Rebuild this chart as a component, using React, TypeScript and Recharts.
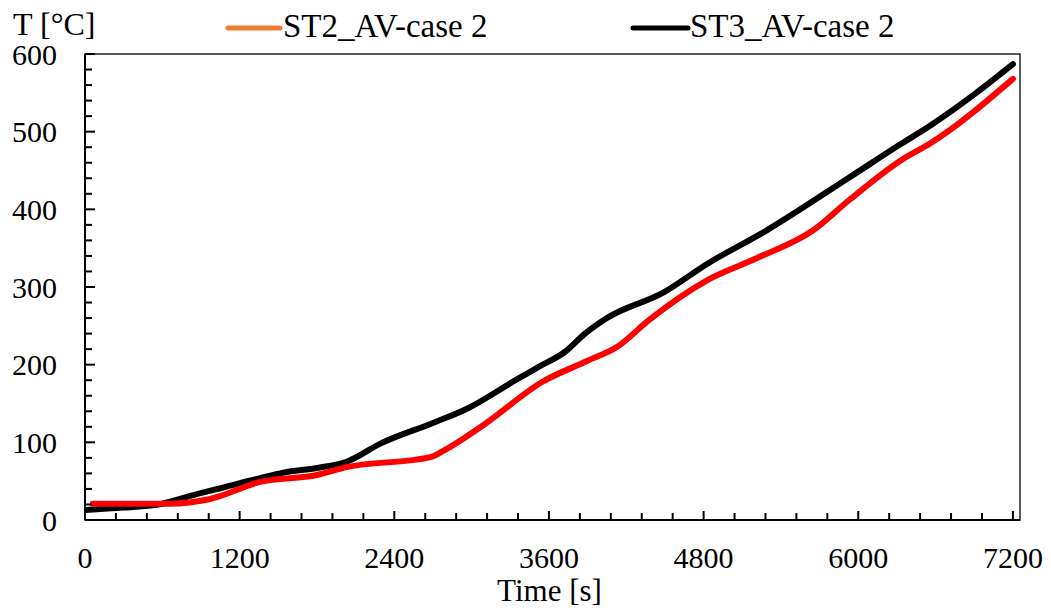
import React from 'react';
import { LineChart, Line, XAxis, YAxis, ReferenceArea, Legend } from 'recharts';

// ST2_AV-case 2 (drawn red, legend orange)
const st2Time = [60, 400, 660, 970, 1360, 1800, 2030, 2680, 2780, 3090, 3550, 3900, 4130, 4380, 4830, 5210, 5650, 5930, 6330, 6560, 7200];
const st2Temp = [21, 21, 21, 27, 49, 58, 68, 81, 89, 122, 178, 205, 223, 258, 309, 337, 373, 412, 463, 485, 568];

// ST3_AV-case 2 (black)
const st3Time = [0, 300, 600, 840, 1100, 1360, 1540, 1800, 2030, 2300, 2700, 2960, 3350, 3530, 3720, 3880, 4050, 4490, 4830, 5290, 5930, 6330, 6560, 6900, 7200];
const st3Temp = [13, 16, 21, 32, 43, 54, 61, 67, 75, 99, 125, 143, 181, 198, 216, 240, 260, 293, 330, 373, 441, 484, 508, 548, 587];

const seriesNames = ['ST2_AV-case 2', 'ST3_AV-case 2'];
const lineColors = ['#FF0000', '#000000'];
const legendColors = ['#ED7D31', '#000000'];

const xMajorTicks = [0, 1200, 2400, 3600, 4800, 6000, 7200];
const yMajorTicks = [0, 100, 200, 300, 400, 500, 600];
const xMinorStep = 240;
const yMinorStep = 20;
const xMax = 7255;
const yMax = 600;

const xAllTicks = Array.from({ length: 7200 / xMinorStep + 1 }, (_, i) => i * xMinorStep);
const yAllTicks = Array.from({ length: yMax / yMinorStep + 1 }, (_, i) => i * yMinorStep);

const st2Data = st2Time.map((t, i) => ({ t, v: st2Temp[i] }));
const st3Data = st3Time.map((t, i) => ({ t, v: st3Temp[i] }));

const FONT = "'Liberation Serif', 'Times New Roman', serif";
const txt = { fontFamily: FONT } as React.CSSProperties;

function XTick(props: any) {
  const { x, y, payload } = props;
  const major = xMajorTicks.includes(payload.value);
  return (
    <g>
      <line x1={x} x2={x} y1={y} y2={y - (major ? 9 : 7)} stroke="#000" strokeWidth={2} />
      {major && (
        <text x={x} y={y + 48} textAnchor="middle" fontSize={30} style={txt} fill="#000">
          {payload.value}
        </text>
      )}
    </g>
  );
}

function YTick(props: any) {
  const { x, y, payload } = props;
  const major = yMajorTicks.includes(payload.value);
  return (
    <g>
      <line x1={x} x2={x + (major ? 10 : 7)} y1={y} y2={y} stroke="#000" strokeWidth={2} />
      {major && (
        <text x={x - 28} y={y + 10.5} textAnchor="end" fontSize={30} style={txt} fill="#000">
          {payload.value}
        </text>
      )}
    </g>
  );
}

function LegendBox() {
  const items = [
    { x1: 228, x2: 280, tx: 283 },
    { x1: 633, x2: 688, tx: 690 },
  ];
  return (
    <svg width={1051} height={50} style={{ display: 'block' }}>
      {seriesNames.map((name, i) => (
        <g key={name}>
          <line x1={items[i].x1} x2={items[i].x2} y1={28} y2={28} stroke={legendColors[i]} strokeWidth={5} strokeLinecap="round" />
          <text x={items[i].tx} y={37} fontSize={33} style={txt} fill="#000">
            {name}
          </text>
        </g>
      ))}
    </svg>
  );
}

export default function App() {
  return (
    <div style={{ position: 'absolute', left: 0, top: 0, width: 1051, height: 612, background: '#fff', fontFamily: FONT }}>
      <LineChart width={1051} height={612} margin={{ top: 54, right: 31, bottom: 32, left: 0 }} style={txt}>
        <XAxis
          dataKey="t"
          type="number"
          domain={[0, xMax]}
          ticks={xAllTicks}
          interval={0}
          tickSize={0}
          tickMargin={0}
          tickLine={false}
          tick={<XTick />}
          height={60}
          axisLine={{ stroke: '#000', strokeWidth: 2 }}
          allowDataOverflow
          label={{
            content: (p: any) => (
              <text
                x={p.viewBox.x + p.viewBox.width / 2 - 3}
                y={p.viewBox.y + 81}
                textAnchor="middle"
                fontSize={31}
                style={txt}
                fill="#000"
              >
                Time [s]
              </text>
            ),
          }}
        />
        <YAxis
          type="number"
          domain={[0, yMax]}
          ticks={yAllTicks}
          interval={0}
          tickSize={0}
          tickMargin={0}
          tickLine={false}
          tick={<YTick />}
          width={85}
          axisLine={{ stroke: '#000', strokeWidth: 2 }}
          allowDataOverflow
          label={{
            content: (p: any) => (
              <text x={p.viewBox.x + 13} y={p.viewBox.y - 19} fontSize={32} style={txt} fill="#000">
                T [°C]
              </text>
            ),
          }}
        />
        <ReferenceArea x1={0} x2={xMax} y1={0} y2={yMax} fill="none" stroke="#222" strokeWidth={1.5} ifOverflow="visible" />
        <Legend
          layout="horizontal"
          verticalAlign="middle"
          align="center"
          wrapperStyle={{ top: 0, left: 0, width: 1051, height: 50 }}
          content={() => <LegendBox />}
        />
        <Line
          data={st3Data}
          dataKey="v"
          name={seriesNames[1]}
          type="monotone"
          stroke={lineColors[1]}
          strokeWidth={6}
          strokeLinecap="round"
          dot={false}
          isAnimationActive={false}
        />
        <Line
          data={st2Data}
          dataKey="v"
          name={seriesNames[0]}
          type="monotone"
          stroke={lineColors[0]}
          strokeWidth={6}
          strokeLinecap="round"
          dot={false}
          isAnimationActive={false}
        />
      </LineChart>
    </div>
  );
}
